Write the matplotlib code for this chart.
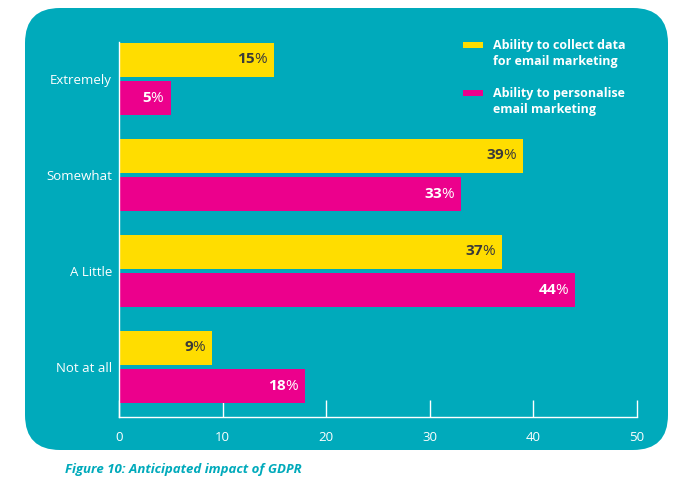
import matplotlib
matplotlib.use("Agg")
import matplotlib.pyplot as plt
from matplotlib.patches import FancyBboxPatch, Rectangle
from matplotlib.transforms import offset_copy

categories = ["Extremely", "Somewhat", "A Little", "Not at all"]
collect = [15, 39, 37, 9]
personalise = [5, 33, 44, 18]
series_names = ["Ability to collect data\nfor email marketing",
                "Ability to personalise\nemail marketing"]
xticks = [0, 10, 20, 30, 40, 50]

TEAL = "#00AABB"
YELLOW = "#FFDD00"
PINK = "#EC008C"
DARK = "#3a3a3a"
FONT = ["Open Sans", "DejaVu Sans"]

plt.rcParams["font.family"] = FONT
plt.rcParams["mathtext.fontset"] = "custom"
plt.rcParams["mathtext.rm"] = "Open Sans"
plt.rcParams["mathtext.bf"] = "Open Sans:bold"

fig = plt.figure(figsize=(7, 4.82), dpi=100)
fig.patch.set_facecolor("white")

bg = FancyBboxPatch((25 / 700, 32 / 482), (668 - 25) / 700, (450 - 8) / 482,
                    boxstyle="round,pad=0,rounding_size=0.05",
                    transform=fig.transFigure, facecolor=TEAL, edgecolor="none",
                    mutation_aspect=700 / 482, zorder=-5)
fig.patches.append(bg)

ax = fig.add_axes([119 / 700, 65 / 482, (637 - 119) / 700, (417 - 42) / 482])
ax.set_facecolor("none")
ax.set_zorder(2)

n = len(categories)
ypos = [n - 1 - i for i in range(n)]
h = 0.355
off = 0.2
ax.barh([y + off for y in ypos], collect, height=h, color=YELLOW, zorder=2)
ax.barh([y - off for y in ypos], personalise, height=h, color=PINK, zorder=2)

ax.set_xlim(0, 50)
ax.set_ylim(-0.52, 3.385)
ax.set_xticks(xticks)
ax.set_xticklabels([str(t) for t in xticks], color="white", fontsize=9.5)
ax.set_yticks(ypos)
ax.set_yticklabels(categories, color="white", fontsize=9.5)
ax.tick_params(axis="x", direction="in", length=12, width=1, color="white", pad=10)
ax.tick_params(axis="y", length=0, pad=5)
for s in ["top", "right"]:
    ax.spines[s].set_visible(False)
for s in ["left", "bottom"]:
    ax.spines[s].set_color("white")
    ax.spines[s].set_linewidth(1)

def label(val, y, color):
    tr = offset_copy(ax.transData, fig=fig, x=-6, y=0, units="dots")
    ax.text(val, y, r"$\mathbf{%d}$%%" % val, ha="right", va="center",
            fontsize=11, color=color, transform=tr, zorder=3)

for y, v in zip(ypos, collect):
    label(v, y + off, DARK)
for y, v in zip(ypos, personalise):
    label(v, y - off, "white")

# legend
for (py, color, name) in [(45, YELLOW, series_names[0]), (93, PINK, series_names[1])]:
    fig.patches.append(Rectangle((463 / 700, 1 - (py + 3) / 482), 20 / 700, 6 / 482,
                                 transform=fig.transFigure, facecolor=color,
                                 edgecolor="none", zorder=3))
    fig.text(493 / 700, 1 - (py - 6) / 482, name, ha="left", va="top",
             fontsize=9, fontweight="bold", color="white", linespacing=1.35)

fig.text(65 / 700, 1 - 469 / 482, "Figure 10: Anticipated impact of GDPR",
         ha="left", va="center", fontsize=9.5, fontweight="bold",
         fontstyle="italic", color=TEAL)

fig.savefig("out.png", dpi=100, facecolor="white")
